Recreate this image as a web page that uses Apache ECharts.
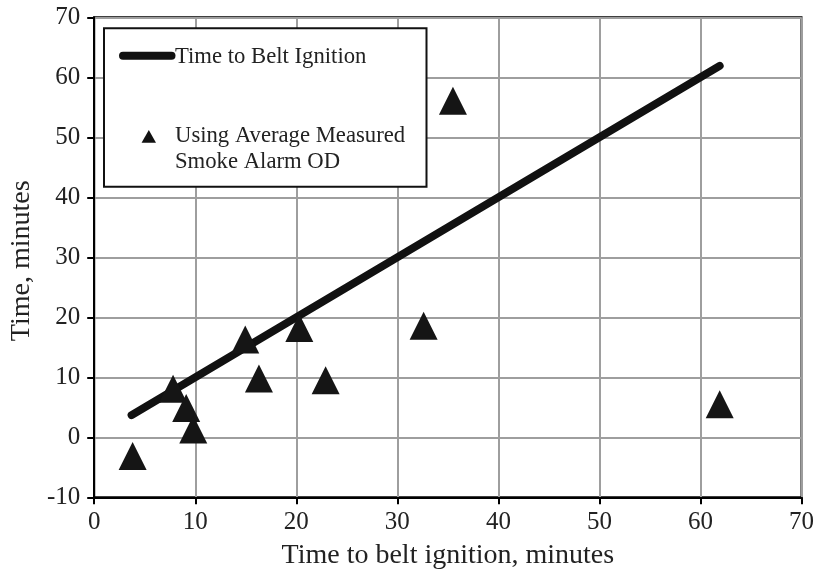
<!DOCTYPE html>
<html>
<head>
<meta charset="utf-8">
<script src="https://cdn.jsdelivr.net/npm/echarts@6/dist/echarts.min.js"></script>
<style>
html,body{margin:0;padding:0;background:#fff;}
#c{width:817px;height:577px;}
</style>
</head>
<body>
<div id="c"></div>
<script>
var lineName = 'Time to Belt Ignition';
var scatterName = ['Using Average Measured', 'Smoke Alarm OD'];
var lineX = [3.7, 61.9];
var lineY = [3.7, 61.9];
var scatterX = [3.8, 7.8, 9.1, 9.8, 14.95, 16.3, 20.3, 22.9, 32.6, 35.5, 61.9];
var scatterY = [-3.1, 8.1, 4.9, 1.3, 16.3, 9.8, 18.2, 9.5, 18.6, 56.1, 5.5];
var xTicks = {min: 0, max: 70, interval: 10};
var yTicks = {min: -10, max: 70, interval: 10};
var xTitle = 'Time to belt ignition, minutes';
var yTitle = 'Time, minutes';

var FONT = '"Liberation Serif", "Times New Roman", "DejaVu Serif", serif';
var chart = echarts.init(document.getElementById('c'), null, {renderer: 'canvas'});

var lineData = lineX.map(function (x, i) { return [x, lineY[i]]; });
var scatterData = scatterX.map(function (x, i) { return [x, scatterY[i]]; });

var axisCommon = {
  type: 'value',
  axisLine: {show: true, onZero: false, lineStyle: {color: '#000', width: 2}},
  axisTick: {show: true, inside: false, length: 7, lineStyle: {color: '#000', width: 2}},
  splitLine: {show: true, lineStyle: {color: '#9e9e9e', width: 2}},
  axisLabel: {color: '#222', fontFamily: FONT, fontSize: 25},
  nameTextStyle: {color: '#222', fontFamily: FONT, fontSize: 28}
};

chart.setOption({
  animation: false,
  backgroundColor: '#fff',
  grid: {left: 92, top: 17.3, width: 712, height: 480, show: true, borderColor: '#000', borderWidth: 2, backgroundColor: 'transparent'},
  xAxis: Object.assign({}, axisCommon, {
    min: xTicks.min, max: xTicks.max, interval: xTicks.interval,
    name: xTitle, nameLocation: 'middle', nameGap: 44,
    axisLabel: Object.assign({}, axisCommon.axisLabel, {margin: 13})
  }),
  yAxis: Object.assign({}, axisCommon, {
    min: yTicks.min, max: yTicks.max, interval: yTicks.interval,
    name: yTitle, nameLocation: 'middle', nameGap: 54,
    nameTextStyle: Object.assign({}, axisCommon.nameTextStyle, {padding: [0, 7, 0, 0]}),
    axisLabel: Object.assign({}, axisCommon.axisLabel, {margin: 14})
  }),
  series: [
    {
      name: lineName, type: 'line', data: lineData, showSymbol: false, symbol: 'none',
      lineStyle: {color: '#111', width: 8, cap: 'round'}, z: 2
    },
    {
      name: scatterName.join(' '), type: 'scatter', data: scatterData,
      symbol: 'triangle', symbolSize: [28, 28],
      itemStyle: {color: '#151515', opacity: 1}, z: 3
    }
  ],
  graphic: [
    {type: 'rect', z: 100, shape: {x: 104, y: 28.3, width: 322.5, height: 158.4},
      style: {fill: '#fff', stroke: '#111', lineWidth: 2}},
    {type: 'line', z: 101, shape: {x1: 123, y1: 55.7, x2: 171.5, y2: 55.7},
      style: {stroke: '#111', lineWidth: 8, lineCap: 'round'}},
    {type: 'text', z: 101, x: 175, y: 57.5,
      style: {text: lineName, font: '22.7px ' + FONT, fill: '#222', verticalAlign: 'middle', align: 'left'}},
    {type: 'polygon', z: 101, shape: {points: [[148.8, 130], [156, 142.7], [141.6, 142.7]]},
      style: {fill: '#111'}},
    {type: 'text', z: 101, x: 175, y: 136,
      style: {text: scatterName[0], font: '22.7px ' + FONT, fill: '#222', verticalAlign: 'middle', align: 'left'}},
    {type: 'text', z: 101, x: 175, y: 162,
      style: {text: scatterName[1], font: '22.7px ' + FONT, fill: '#222', verticalAlign: 'middle', align: 'left'}}
  ]
});
</script>
</body>
</html>
